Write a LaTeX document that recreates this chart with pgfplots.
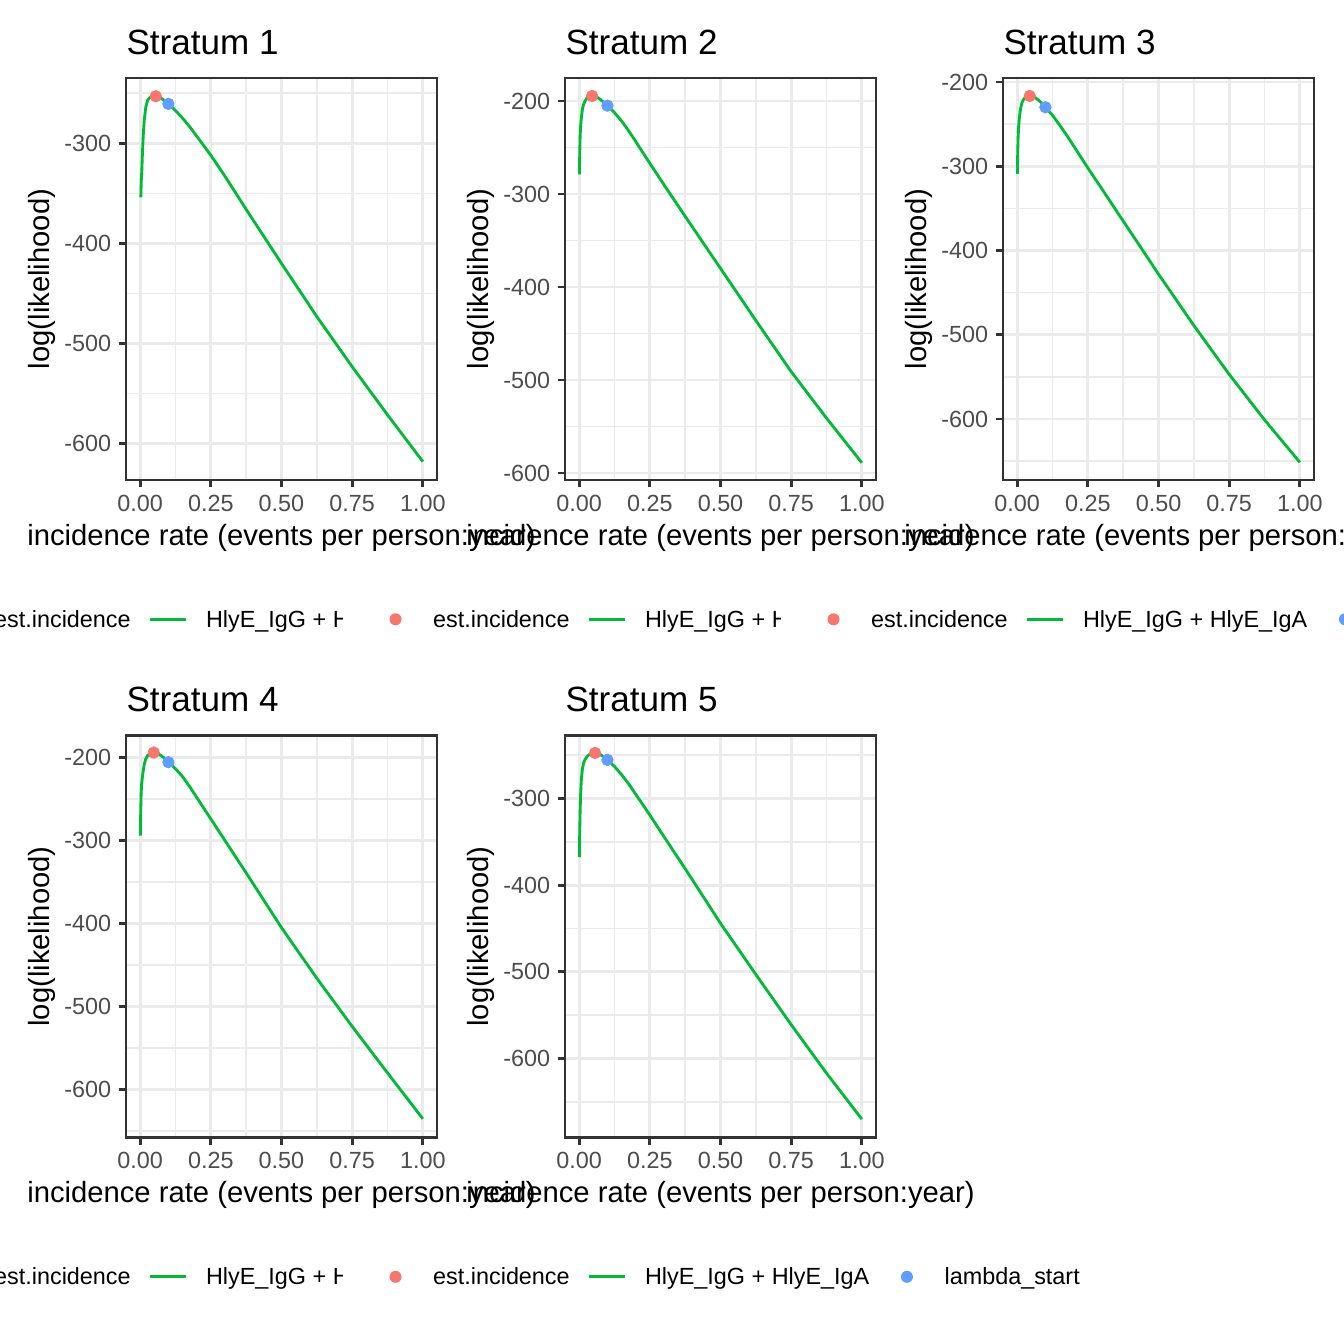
\documentclass[border=0pt]{standalone}
\usepackage{pgfplots}
\usepackage{pgfplotstable}
\pgfplotsset{compat=1.18}
\usepackage{fontspec}
\setmainfont{Liberation Sans}
\newlength\px
\setlength\px{0.376406pt}
\definecolor{grey92}{HTML}{EBEBEB}
\definecolor{grey20}{HTML}{333333}
\definecolor{grey30}{HTML}{4D4D4D}
\definecolor{lred}{HTML}{F8766D}
\definecolor{lgreen}{HTML}{00BA38}
\definecolor{lblue}{HTML}{619CFF}

\pgfplotstableread{
x y
0.0025 -354
0.004 -338
0.006 -327
0.008 -311
0.0107 -294
0.0142 -278
0.020 -264
0.026 -257.5
0.032 -255
0.038 -254
0.046 -253.4
0.055 -253.2
0.065 -253.8
0.075 -255.3
0.085 -257.3
0.100 -260.8
0.125 -267.5
0.150 -275
0.175 -283.5
0.200 -293
0.250 -312
0.300 -333
0.375 -366
0.500 -420
0.625 -473
0.750 -523
0.875 -571
1.000 -617.7
}\sone

\pgfplotstableread{
x y
0.001 -279
0.002 -258
0.0035 -238
0.0055 -226
0.0082 -217
0.012 -208
0.016 -203.5
0.020 -200.7
0.026 -197.5
0.032 -195.8
0.040 -194.8
0.046 -194.6
0.055 -195
0.065 -196.3
0.075 -198.3
0.085 -200.8
0.100 -205
0.125 -212.5
0.150 -221.5
0.175 -232
0.200 -243.5
0.250 -267
0.300 -290
0.375 -324
0.500 -380
0.625 -436
0.750 -491
0.875 -541
1.000 -589
}\stwo

\pgfplotstableread{
x y
0.001 -309
0.002 -284
0.0035 -265
0.0055 -252
0.0082 -241.5
0.012 -232
0.0176 -224
0.024 -220
0.032 -217.8
0.040 -216.8
0.045 -216.6
0.055 -217.2
0.065 -218.8
0.075 -221.5
0.085 -224.5
0.100 -230
0.125 -239.5
0.150 -251
0.175 -263
0.200 -276
0.250 -302
0.300 -327
0.375 -365
0.500 -428
0.625 -489
0.750 -547
0.875 -601
1.000 -651.4
}\sthree

\pgfplotstableread{
x y
0.001 -294
0.002 -266
0.0035 -244
0.0055 -231
0.0094 -219.7
0.014 -209
0.020 -201.6
0.027 -197.5
0.035 -195.3
0.048 -194.1
0.060 -195
0.070 -196.8
0.085 -200.5
0.100 -205.5
0.125 -213.5
0.150 -223
0.175 -235
0.200 -248
0.250 -274
0.300 -300
0.375 -339
0.500 -405
0.625 -466
0.750 -524
0.875 -580
1.000 -635.3
}\sfour

\pgfplotstableread{
x y
0.001 -367.6
0.002 -340
0.0035 -314.6
0.0055 -293
0.0082 -276.2
0.012 -265
0.016 -259
0.020 -255.5
0.028 -251.5
0.036 -249.3
0.045 -248
0.056 -247.5
0.066 -248
0.076 -249.5
0.088 -252.2
0.100 -255.4
0.125 -263
0.150 -272.5
0.175 -283
0.200 -295
0.250 -319
0.300 -344
0.375 -381
0.500 -444
0.625 -503
0.750 -561
0.875 -617
1.000 -670
}\sfive

\pgfplotsset{
  strat/.style={
    scale only axis, width=311\px, height=402\px,
    anchor=north west,
    xmin=-0.05, xmax=1.05,
    xtick={0,0.25,0.5,0.75,1},
    minor xtick={0.125,0.375,0.625,0.875},
    ytick={-700,-600,-500,-400,-300,-200},
    minor ytick={-650,-550,-450,-350,-250,-150},
    grid=both,
    major grid style={draw=grey92, line width=1.07pt},
    minor grid style={draw=grey92, line width=0.53pt},
    axis line style={draw=grey20, line width=1.07pt},
    tick pos=left, tick align=outside,
    major tick length=2.75pt, minor tick length=0pt,
    major tick style={draw=grey20, line width=1.07pt},
    /pgf/number format/assume math mode=true,
    xticklabel style={yshift=-7\px, /pgf/number format/fixed, /pgf/number format/fixed zerofill, /pgf/number format/precision=2},
    yticklabel style={xshift=-7\px, /pgf/number format/fixed, /pgf/number format/precision=0},
    tick label style={font=\fontsize{8.8}{10}\selectfont, text=grey30, inner sep=0pt},
    every axis title/.style={at={(0,1)}, anchor=base west, yshift=23.7\px, inner sep=0pt, font=\fontsize{13.2}{15}\selectfont},
    every axis x label/.style={at={(0.5,-0.1617)}, anchor=base, inner sep=0pt, font=\fontsize{11}{13}\selectfont},
    every axis y label/.style={at={(-0.2251,0.5)}, rotate=90, anchor=south, inner sep=0pt, font=\fontsize{11}{13}\selectfont},
    xlabel={incidence rate (events per person:year)},
    ylabel={log(likelihood)},
    legend columns=3,
    legend style={at={(-0.717,-0.3465)}, anchor=west, draw=none, fill=white,
      inner xsep=30\px, inner ysep=8\px, font=\fontsize{8.8}{10}\selectfont,
      nodes={inner sep=0pt, text height=7pt, text depth=0.98pt},
      cells={anchor=west}, column sep=0pt,
      /tikz/every odd column/.style={column sep=14.7\px},
      /tikz/every even column/.style={column sep=14.7\px}},
  },
  dotkey/.style={legend image code/.code={\path[draw=none, fill=none] (-23\px,-3pt) rectangle (23\px,3pt); \fill[#1, draw=none] (0,0) circle (6\px);}},
  linekey/.style={legend image code/.code={\path[draw=none, fill=none] (-23\px,-3pt) rectangle (23\px,3pt); \draw[lgreen, line width=1.07pt] (-18\px,0) -- (18\px,0);}},
}

\newcommand{\stratlegend}{%
  \addlegendimage{dotkey=lred}
  \addlegendentry{est.incidence}
  \addlegendimage{linekey}
  \addlegendentry{HlyE\_IgG + HlyE\_IgA}
  \addlegendimage{dotkey=lblue}
  \addlegendentry{lambda\_start}
}

\begin{document}
\begin{tikzpicture}
\path[use as bounding box] (0,0) rectangle (1344\px,-1344\px);
\clip (0,0) rectangle (1344\px,-1344\px);
\fill[white] (0,0) rectangle (1344\px,-1344\px);

\begin{axis}[strat, at={(126\px,-78\px)}, ymin=-636, ymax=-235, title={Stratum 1}]
\stratlegend
\addplot[lgreen, line width=1.07pt, line join=round, forget plot] table[x=x,y=y] {\sone};
\addplot[only marks, mark=*, mark size=5.6\px, lred, forget plot] coordinates {(0.0553,-253.2)};
\addplot[only marks, mark=*, mark size=5.6\px, lblue, forget plot] coordinates {(0.1,-260.8)};
\end{axis}

\begin{axis}[strat, at={(565\px,-78\px)}, ymin=-607.5, ymax=-175.3, title={Stratum 2}]
\stratlegend
\addplot[lgreen, line width=1.07pt, line join=round, forget plot] table[x=x,y=y] {\stwo};
\addplot[only marks, mark=*, mark size=5.6\px, lred, forget plot] coordinates {(0.0458,-194.6)};
\addplot[only marks, mark=*, mark size=5.6\px, lblue, forget plot] coordinates {(0.1,-205)};
\end{axis}

\begin{axis}[strat, at={(1003\px,-78\px)}, ymin=-672.4, ymax=-195.3, title={Stratum 3}]
\stratlegend
\addplot[lgreen, line width=1.07pt, line join=round, forget plot] table[x=x,y=y] {\sthree};
\addplot[only marks, mark=*, mark size=5.6\px, lred, forget plot] coordinates {(0.0446,-216.6)};
\addplot[only marks, mark=*, mark size=5.6\px, lblue, forget plot] coordinates {(0.1,-230)};
\end{axis}

\begin{axis}[strat, at={(126\px,-735.5\px)}, ymin=-657.8, ymax=-173.5, title={Stratum 4}]
\stratlegend
\addplot[lgreen, line width=1.07pt, line join=round, forget plot] table[x=x,y=y] {\sfour};
\addplot[only marks, mark=*, mark size=5.6\px, lred, forget plot] coordinates {(0.048,-194)};
\addplot[only marks, mark=*, mark size=5.6\px, lblue, forget plot] coordinates {(0.1,-205.6)};
\end{axis}

\begin{axis}[strat, at={(565\px,-735.5\px)}, ymin=-691.2, ymax=-227.3, title={Stratum 5}]
\stratlegend
\addplot[lgreen, line width=1.07pt, line join=round, forget plot] table[x=x,y=y] {\sfive};
\addplot[only marks, mark=*, mark size=5.6\px, lred, forget plot] coordinates {(0.0563,-247.4)};
\addplot[only marks, mark=*, mark size=5.6\px, lblue, forget plot] coordinates {(0.1,-255.4)};
\end{axis}
\end{tikzpicture}
\end{document}
